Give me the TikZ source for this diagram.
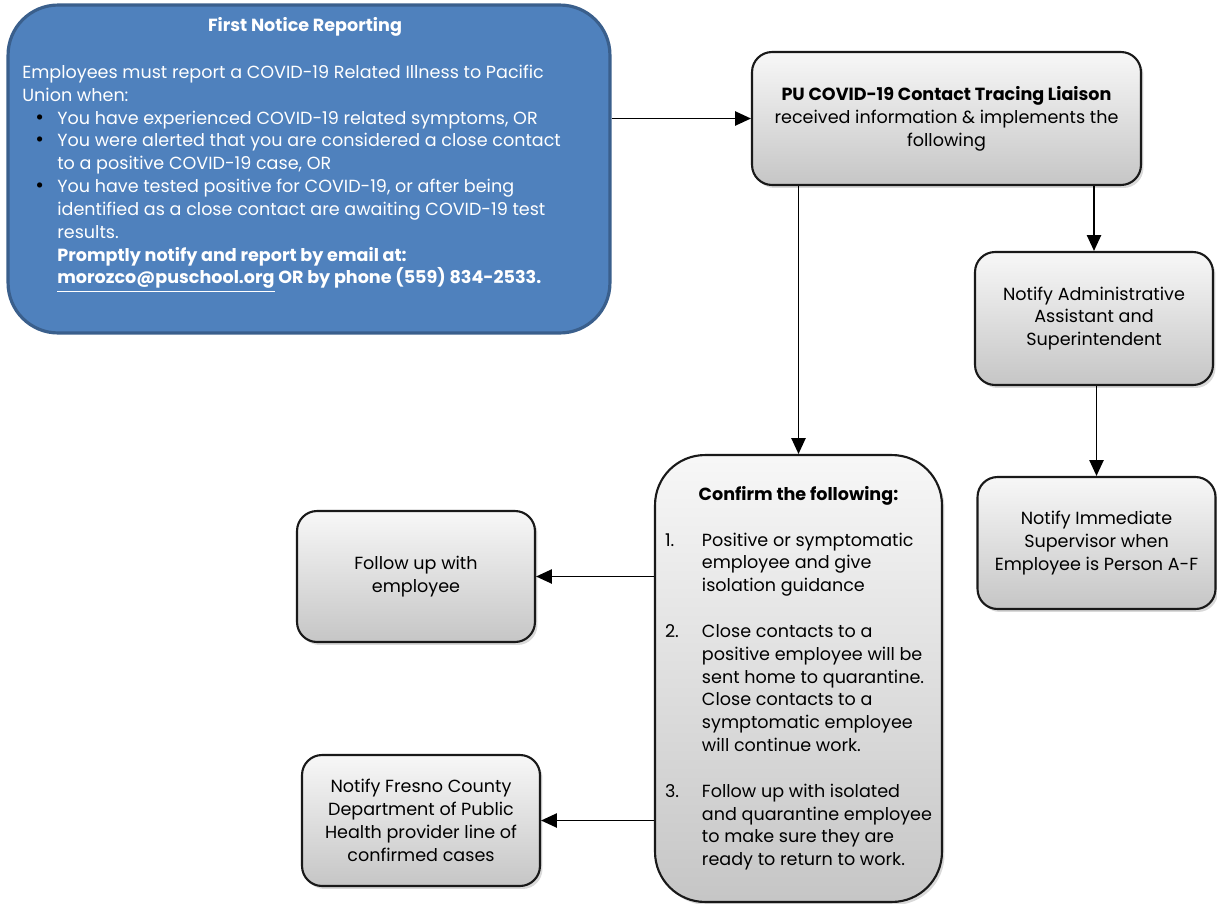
\documentclass[tikz,border=0pt]{standalone}
\usepackage{fontspec}
\setmainfont{Poppins}
\usepackage{xcolor}
\usetikzlibrary{arrows.meta,shadows}

\definecolor{noticeblue}{RGB}{79,129,189}
\definecolor{noticeedge}{RGB}{58,95,140}
\newcommand{\noticedot}{\hspace{0.26cm}{\color{black}\large\textbullet}}

\begin{document}
\begin{tikzpicture}[x=0.02cm, y=-0.02cm,
                    every node/.style={font=\fontsize{10}{13}\selectfont},
                    notice/.style={draw=noticeedge, line width=1.8pt, fill=noticeblue,
                                   rounded corners=1cm, minimum width=12.04cm, minimum height=6.56cm},
                    graybox/.style={draw=black!90, line width=1.2pt, rounded corners=0.4cm,
                                    top color=gray!6, bottom color=gray!45, align=center,
                                    drop shadow={shadow xshift=0.05cm, shadow yshift=-0.06cm, opacity=0.3},
                                    minimum width=4.76cm, minimum height=2.64cm},
                    link/.style={-{Triangle[length=9pt,width=8pt]}, line width=1.1pt}]
\useasboundingbox (0,0) rectangle (1217,903);

\node[notice] (notice) at (309,169) {};
\node[text=white, font=\fontsize{10}{13}\selectfont\bfseries] (noticetitle) at (305,27) {First Notice Reporting};
\node[text=white, anchor=north west, inner sep=0pt] (noticebody) at (22,62) {%
    \begin{tabular}{@{}p{0.7cm}@{}l@{}}
    \multicolumn{2}{@{}l@{}}{Employees must report a COVID-19 Related Illness to Pacific}\\
    \multicolumn{2}{@{}l@{}}{Union when:}\\
    \noticedot & You have experienced COVID-19 related symptoms, OR\\
    \noticedot & You were alerted that you are considered a close contact\\
    & to a positive COVID-19 case, OR\\
    \noticedot & You have tested positive for COVID-19, or after being\\
    & identified as a close contact are awaiting COVID-19 test\\
    & results.\\
    & \textbf{Promptly notify and report by email at:}\\
    & \textbf{\underline{morozco@puschool.org} OR by phone (559) 834-2533.}
    \end{tabular}};

\node[graybox, minimum width=7.78cm, minimum height=2.66cm] (liaison) at (946.5,118.5)
    {\textbf{PU COVID-19 Contact Tracing Liaison}\\received information \& implements the\\following};
\node[graybox, minimum height=2.66cm] (admin) at (1094,318.5)
    {Notify Administrative\\Assistant and\\Superintendent};
\node[graybox] (supervisor) at (1096.5,543)
    {Notify Immediate\\Supervisor when\\Employee is Person A-F};
\node[graybox, rounded corners=1cm, minimum width=5.74cm, minimum height=8.94cm] (confirm) at (798.5,678.5) {%
    \begin{tabular}{@{}p{0.74cm}@{}l@{}}
    \multicolumn{2}{c}{\textbf{Confirm the following:}}\\
    \\
    1. & Positive or symptomatic\\
    & employee and give\\
    & isolation guidance\\
    \\
    2. & Close contacts to a\\
    & positive employee will be\\
    & sent home to quarantine.\\
    & Close contacts to a\\
    & symptomatic employee\\
    & will continue work.\\
    \\
    3. & Follow up with isolated\\
    & and quarantine employee\\
    & to make sure they are\\
    & ready to return to work.
    \end{tabular}};
\node[graybox, minimum height=2.62cm] (followup) at (416,576.5) {Follow up with\\employee};
\node[graybox, minimum height=2.62cm] (fresno) at (421,820.5)
    {Notify Fresno County\\Department of Public\\Health provider line of\\confirmed cases};

\draw[link] (notice.east |- liaison.west) -- (liaison.west);
\draw[link] (confirm.north |- liaison.south) -- (confirm.north);
\draw[link] (admin.north |- liaison.south) -- (admin.north);
\draw[link] (supervisor.north |- admin.south) -- (supervisor.north);
\draw[link] (confirm.west |- followup.east) -- (followup.east);
\draw[link] (confirm.west |- fresno.east) -- (fresno.east);
\end{tikzpicture}
\end{document}
